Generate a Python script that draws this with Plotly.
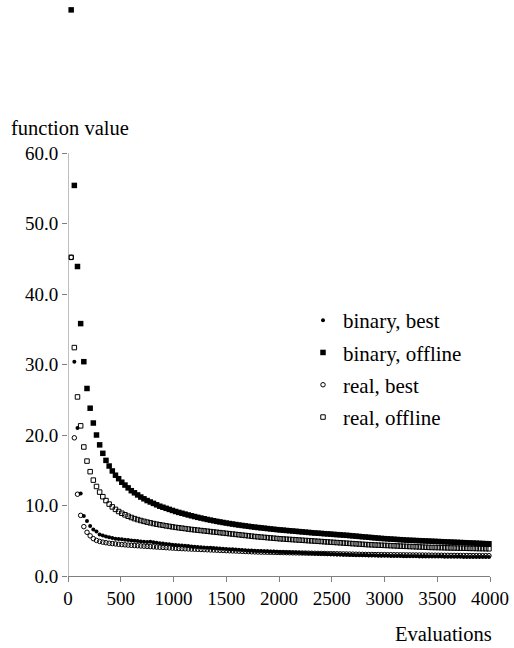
import plotly.graph_objects as go

# Evaluation grid (every 30 evaluations)
evaluations = list(range(30, 4000, 30))

binary_best = [
    80.3, 30.4, 21.0, 11.7, 8.5, 7.8, 7.1, 6.6, 6.3, 5.9,
    5.75, 5.6, 5.5, 5.4, 5.3, 5.25, 5.2, 5.15, 5.1, 5.05,
    5.0, 4.95, 4.9, 4.86, 4.82, 4.85, 4.8, 4.72, 4.66, 4.6,
    4.55, 4.5, 4.45, 4.4, 4.36, 4.32, 4.28, 4.24, 4.2, 4.16,
    4.12, 4.08, 4.05, 4.02, 3.99, 3.96, 3.93, 3.9, 3.87, 3.84,
    3.81, 3.78, 3.75, 3.72, 3.69, 3.66, 3.63, 3.6, 3.58, 3.56,
    3.54, 3.52, 3.5, 3.48, 3.46, 3.44, 3.42, 3.4, 3.38, 3.36,
    3.34, 3.32, 3.3, 3.28, 3.26, 3.24, 3.22, 3.2, 3.18, 3.16,
    3.14, 3.12, 3.1, 3.08, 3.06, 3.04, 3.02, 3.0, 2.98, 2.97,
    2.96, 2.95, 2.94, 2.93, 2.92, 2.91, 2.9, 2.89, 2.88, 2.87,
    2.86, 2.85, 2.84, 2.83, 2.82, 2.81, 2.8, 2.8, 2.79, 2.79,
    2.78, 2.78, 2.77, 2.77, 2.76, 2.76, 2.75, 2.75, 2.74, 2.74,
    2.73, 2.73, 2.72, 2.72, 2.71, 2.71, 2.7, 2.7, 2.7, 2.69,
    2.69, 2.69, 2.68,
]

binary_offline = [
    80.3, 55.4, 43.9, 35.8, 30.4, 26.6, 23.8, 21.7, 20.0, 18.6,
    17.4, 16.4, 15.6, 14.9, 14.3, 13.8, 13.3, 12.9, 12.5, 12.1,
    11.8, 11.5, 11.2, 10.95, 10.7, 10.5, 10.3, 10.1, 9.9, 9.75,
    9.6, 9.45, 9.3, 9.15, 9.02, 8.9, 8.78, 8.66, 8.54, 8.43,
    8.32, 8.22, 8.12, 8.02, 7.93, 7.84, 7.75, 7.67, 7.59, 7.51,
    7.44, 7.37, 7.3, 7.23, 7.17, 7.11, 7.05, 6.99, 6.93, 6.88,
    6.83, 6.78, 6.73, 6.68, 6.63, 6.58, 6.54, 6.5, 6.46, 6.42,
    6.38, 6.34, 6.3, 6.26, 6.22, 6.18, 6.14, 6.1, 6.07, 6.04,
    6.0, 5.97, 5.94, 5.9, 5.87, 5.84, 5.8, 5.77, 5.73, 5.69,
    5.65, 5.61, 5.57, 5.53, 5.49, 5.45, 5.41, 5.37, 5.33, 5.3,
    5.27, 5.24, 5.21, 5.18, 5.15, 5.12, 5.09, 5.07, 5.05, 5.03,
    5.01, 4.99, 4.97, 4.95, 4.93, 4.91, 4.89, 4.87, 4.85, 4.83,
    4.81, 4.79, 4.77, 4.75, 4.73, 4.71, 4.69, 4.67, 4.65, 4.63,
    4.61, 4.59, 4.57,
]

real_best = [
    45.2, 19.6, 11.6, 8.6, 7.0, 6.2, 5.7, 5.3, 5.05, 4.9,
    4.8, 4.72, 4.65, 4.6, 4.55, 4.5, 4.46, 4.42, 4.38, 4.35,
    4.32, 4.29, 4.26, 4.23, 4.2, 4.17, 4.14, 4.11, 4.08, 4.05,
    4.02, 3.99, 3.96, 3.93, 3.9, 3.88, 3.86, 3.84, 3.82, 3.8,
    3.78, 3.76, 3.74, 3.72, 3.7, 3.68, 3.66, 3.64, 3.62, 3.6,
    3.58, 3.56, 3.54, 3.52, 3.5, 3.48, 3.46, 3.44, 3.42, 3.4,
    3.39, 3.38, 3.37, 3.36, 3.35, 3.34, 3.33, 3.32, 3.31, 3.3,
    3.29, 3.28, 3.27, 3.26, 3.25, 3.24, 3.23, 3.22, 3.21, 3.2,
    3.19, 3.18, 3.17, 3.16, 3.15, 3.14, 3.13, 3.12, 3.11, 3.1,
    3.09, 3.08, 3.07, 3.06, 3.05, 3.05, 3.04, 3.04, 3.03, 3.03,
    3.02, 3.02, 3.01, 3.01, 3.0, 3.0, 2.99, 2.99, 2.98, 2.98,
    2.97, 2.97, 2.96, 2.96, 2.95, 2.95, 2.94, 2.94, 2.93, 2.93,
    2.92, 2.92, 2.91, 2.91, 2.9, 2.9, 2.9, 2.89, 2.89, 2.89,
    2.88, 2.88, 2.88,
]

real_offline = [
    45.2, 32.4, 25.4, 21.3, 18.3, 16.3, 14.8, 13.6, 12.7, 11.9,
    11.25, 10.7, 10.2, 9.8, 9.45, 9.15, 8.9, 8.68, 8.48, 8.3,
    8.14, 8.0, 7.87, 7.75, 7.64, 7.54, 7.44, 7.35, 7.27, 7.19,
    7.11, 7.04, 6.97, 6.9, 6.84, 6.78, 6.72, 6.66, 6.6, 6.55,
    6.5, 6.45, 6.4, 6.35, 6.3, 6.25, 6.2, 6.15, 6.1, 6.05,
    6.0, 5.95, 5.9, 5.85, 5.8, 5.75, 5.7, 5.65, 5.6, 5.56,
    5.52, 5.48, 5.44, 5.4, 5.36, 5.32, 5.28, 5.25, 5.22, 5.19,
    5.16, 5.13, 5.1, 5.07, 5.04, 5.01, 4.98, 4.95, 4.92, 4.89,
    4.86, 4.83, 4.8, 4.77, 4.74, 4.71, 4.68, 4.65, 4.62, 4.59,
    4.56, 4.53, 4.5, 4.47, 4.44, 4.42, 4.4, 4.38, 4.36, 4.34,
    4.32, 4.3, 4.28, 4.26, 4.24, 4.22, 4.2, 4.18, 4.16, 4.14,
    4.12, 4.1, 4.08, 4.06, 4.05, 4.04, 4.03, 4.02, 4.0, 3.99,
    3.98, 3.97, 3.96, 3.95, 3.94, 3.93, 3.92, 3.91, 3.9, 3.89,
    3.88, 3.87, 3.86,
]

series_names = ["binary, best", "binary, offline", "real, best", "real, offline"]
x_ticks = [0, 500, 1000, 1500, 2000, 2500, 3000, 3500, 4000]
y_ticks = [0, 10, 20, 30, 40, 50, 60]
y_axis_max = 60

FONT = "Liberation Serif, Times New Roman, serif"
AXIS_GRAY = "#7f7f7f"

styles = [
    dict(symbol="circle", size=4, color="black", line=dict(width=0)),
    dict(symbol="square", size=5.5, color="black", line=dict(width=0)),
    dict(symbol="circle-open", size=4.5, color="black", line=dict(width=1, color="black")),
    dict(symbol="square-open", size=4.5, color="black", line=dict(width=1, color="black")),
]

fig = go.Figure()
for name, ys, st in zip(series_names, [binary_best, binary_offline, real_best, real_offline], styles):
    fig.add_trace(go.Scatter(
        x=evaluations[:len(ys)], y=ys, name=name, mode="markers",
        marker=st, cliponaxis=False, legendgroup=name,
    ))

W, H = 514, 648
L, R, T, B = 68, 24, 0, 72
pw, ph = W - L - R, H - T - B
axis_top_px = 153  # pixel row of the 60.0 tick
y_range_top = y_axis_max * ph / (H - B - axis_top_px)


def px_x(px):
    return (px - L) / pw


def px_y(py):
    return (H - B - py) / ph


fig.update_layout(
    width=W, height=H,
    margin=dict(l=L, r=R, t=T, b=B),
    paper_bgcolor="white", plot_bgcolor="white",
    font=dict(family=FONT, size=19, color="black"),
    showlegend=True,
    legend=dict(
        x=px_x(303), y=px_y(300), xanchor="left", yanchor="top",
        bgcolor="rgba(0,0,0,0)", borderwidth=0,
        font=dict(family=FONT, size=21, color="black"),
        tracegroupgap=2, itemsizing="trace",
    ),
    xaxis=dict(
        range=[0, 4000], tickvals=x_ticks, ticktext=[str(v) for v in x_ticks],
        showline=True, linecolor=AXIS_GRAY, linewidth=1,
        ticks="outside", ticklen=5, tickcolor=AXIS_GRAY, tickwidth=1,
        showgrid=False, zeroline=False,
        tickfont=dict(family=FONT, size=19, color="black"),
    ),
    yaxis=dict(
        range=[0, y_range_top], tickvals=y_ticks, ticktext=[f"{v:.1f}" for v in y_ticks],
        showline=False,
        ticks="outside", ticklen=5, tickcolor=AXIS_GRAY, tickwidth=1,
        showgrid=False, zeroline=False,
        tickfont=dict(family=FONT, size=19, color="black"),
    ),
    shapes=[
        dict(type="line", xref="x", yref="y", x0=0, x1=0, y0=0, y1=y_axis_max,
             line=dict(color=AXIS_GRAY, width=1), layer="above"),
    ],
    annotations=[
        dict(text="function value", xref="paper", yref="paper",
             x=px_x(9), y=px_y(128), xanchor="left", yanchor="middle",
             showarrow=False, font=dict(family=FONT, size=20.5, color="black")),
        dict(text="Evaluations", xref="paper", yref="paper",
             x=px_x(494), y=px_y(634), xanchor="right", yanchor="middle",
             showarrow=False, font=dict(family=FONT, size=20.5, color="black")),
    ],
)

fig.write_html("out.html", config={"displayModeBar": False},
               post_script="document.body.style.margin='0';")
